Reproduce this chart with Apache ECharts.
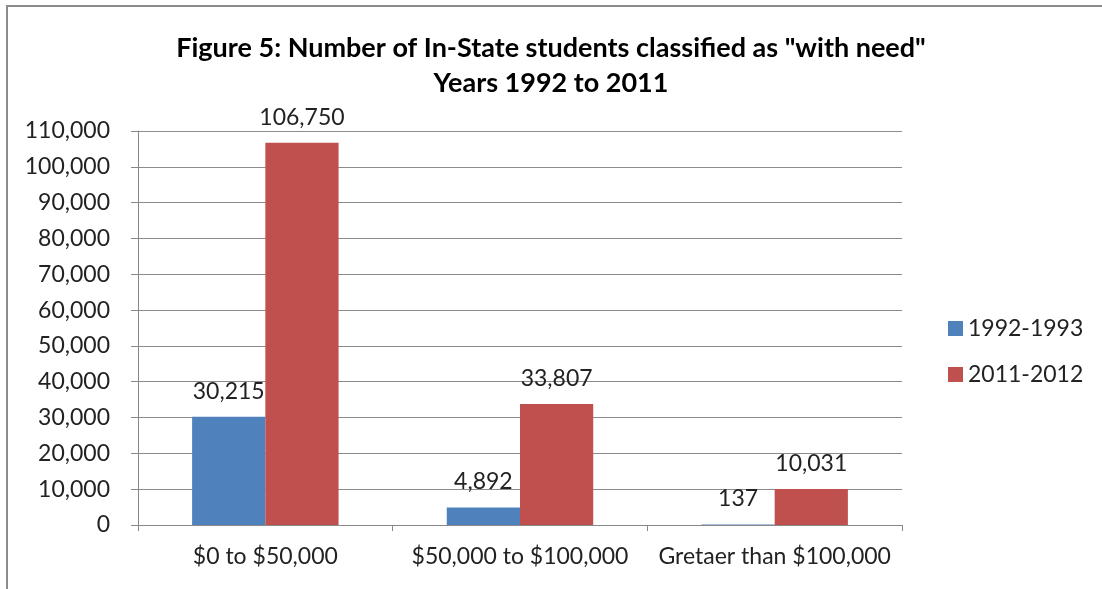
<!DOCTYPE html>
<html>
<head>
<meta charset="utf-8">
<script src="https://cdn.jsdelivr.net/npm/echarts@6/dist/echarts.min.js"></script>
<style>
  html, body { margin: 0; padding: 0; background: #fff; }
  #chart { width: 1102px; height: 589px; }
</style>
</head>
<body>
<div id="chart"></div>
<script>
const categories = ['$0 to $50,000', '$50,000 to $100,000', 'Gretaer than $100,000'];
const seriesNames = ['1992-1993', '2011-2012'];
const values1992 = [30215, 4892, 137];
const values2011 = [106750, 33807, 10031];
const colors = ['#4f81bd', '#c0504d'];

const font = 'Lato, "Open Sans", sans-serif';
const fmt = v => v.toLocaleString('en-US');

const myChart = echarts.init(document.getElementById('chart'));

// 图表配置
let option = {
  animation: false,
  textStyle: { fontFamily: font },
  graphic: [
    {
      type: 'rect',
      shape: { x: 7, y: 6, width: 1200, height: 700 },
      style: { fill: 'none', stroke: '#8c8c8c', lineWidth: 2 }
    }
  ],
  title: {
    text: 'Figure 5: Number of In-State students classified as "with need"\nYears 1992 to 2011',
    left: 'center',
    top: 26,
    textStyle: {
      fontFamily: font,
      fontSize: 27,
      fontWeight: 'bold',
      color: '#000',
      lineHeight: 35
    }
  },
  legend: {
    data: seriesNames,
    orient: 'vertical',
    left: 943,
    top: 312,
    itemGap: 23,
    itemWidth: 15,
    itemHeight: 15,
    icon: 'rect',
    textStyle: { fontFamily: font, fontSize: 23, color: '#222' }
  },
  grid: {
    left: 138,
    right: 200,
    top: 131,
    bottom: 64
  },
  xAxis: {
    type: 'category',
    data: categories,
    axisLine: { lineStyle: { color: '#888' } },
    axisTick: { show: true, length: 6, lineStyle: { color: '#888' } },
    axisLabel: { interval: 0, fontFamily: font, fontSize: 23, color: '#222', margin: 20 }
  },
  yAxis: {
    type: 'value',
    min: 0,
    max: 110000,
    interval: 10000,
    axisLine: { show: true, lineStyle: { color: '#888' } },
    axisTick: { show: true, length: 7, lineStyle: { color: '#888' } },
    splitLine: { lineStyle: { color: '#8c8c8c' } },
    axisLabel: {
      fontFamily: font,
      fontSize: 23,
      color: '#222',
      margin: 28,
      formatter: fmt
    }
  },
  series: [
    {
      name: seriesNames[0],
      type: 'bar',
      data: values1992,
      barGap: '0%',
      barCategoryGap: '42.5%',
      itemStyle: { color: colors[0] },
      label: {
        show: true,
        position: 'top',
        distance: 14,
        fontFamily: font,
        fontSize: 23,
        color: '#222',
        formatter: p => fmt(p.value)
      }
    },
    {
      name: seriesNames[1],
      type: 'bar',
      data: values2011,
      barGap: '0%',
      barCategoryGap: '42.5%',
      itemStyle: { color: colors[1] },
      label: {
        show: true,
        position: 'top',
        distance: 14,
        fontFamily: font,
        fontSize: 23,
        color: '#222',
        formatter: p => fmt(p.value)
      }
    }
  ]
};

option && myChart.setOption(option);
</script>
</body>
</html>
